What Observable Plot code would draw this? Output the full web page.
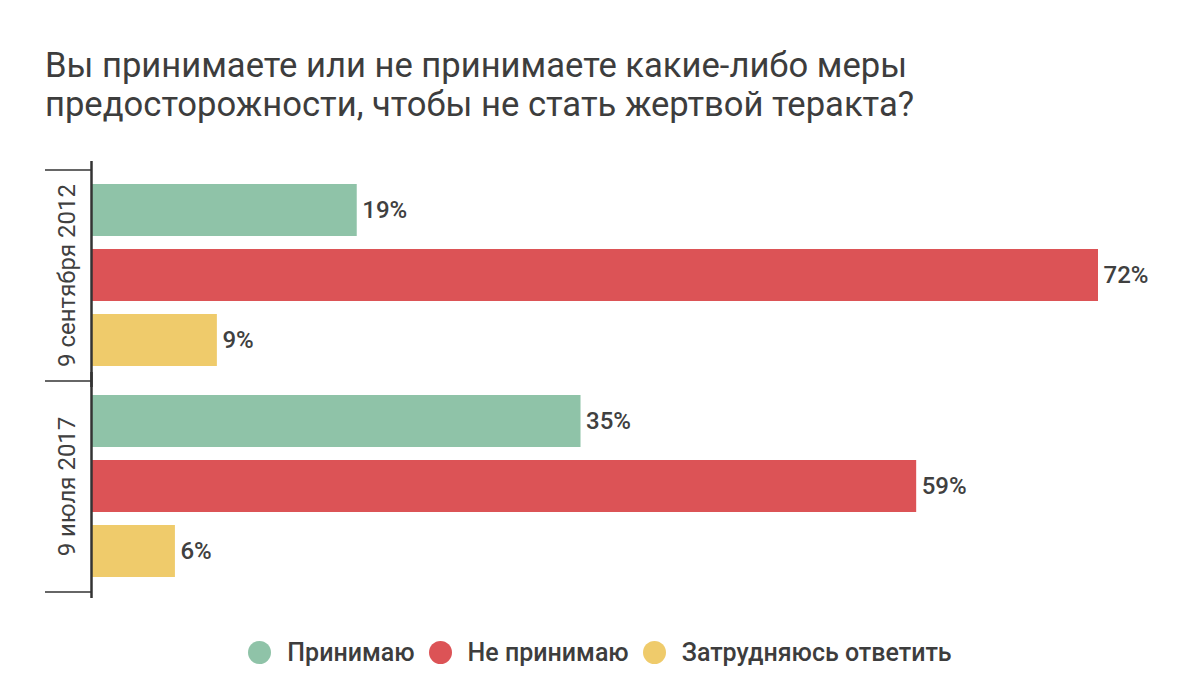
<!DOCTYPE html>
<html>
<head>
<meta charset="utf-8">
<script src="https://cdn.jsdelivr.net/npm/d3@7"></script>
<script src="https://cdn.jsdelivr.net/npm/@observablehq/plot@0.6"></script>
<style>
  html, body { margin: 0; padding: 0; background: #fff; }
  body { width: 1200px; height: 698px; position: relative; font-family: Roboto, "Noto Sans", sans-serif; overflow: hidden; }
  #title { position: absolute; left: 45px; top: 46px; font-size: 34.6px; line-height: 39px; color: #3d3d3d; }
  #chart { position: absolute; left: 0; top: 140px; }
  #legend { position: absolute; left: 0; width: 1200px; top: 638px; display: flex; justify-content: center; align-items: center; font-size: 25px; font-weight: 500; color: #3d3d3d; }
  .item { display: flex; align-items: center; margin: 0 7px; }
  .sw { width: 23px; height: 23px; border-radius: 50%; margin-right: 16px; }
</style>
</head>
<body>
<div id="title">Вы принимаете или не принимаете какие-либо меры<br>предосторожности, чтобы не стать жертвой теракта?</div>
<div id="chart"></div>
<div id="legend"></div>
<script>
const dates = ["9 сентября 2012", "9 июля 2017"];
const answers = ["Принимаю", "Не принимаю", "Затрудняюсь ответить"];
const colors = ["#8fc3a8", "#dc5356", "#efcb6b"];
const values2012 = [19, 72, 9];
const values2017 = [35, 59, 6];

const data = [
  ...answers.map((a, i) => ({date: dates[0], answer: a, value: values2012[i]})),
  ...answers.map((a, i) => ({date: dates[1], answer: a, value: values2017[i]}))
];

const chart = Plot.plot({
  width: 1200,
  height: 471,
  marginTop: 29,
  marginBottom: 20,
  marginLeft: 91,
  marginRight: 102,
  style: {fontFamily: "Roboto, 'Noto Sans', sans-serif", background: "transparent"},
  x: {domain: [0, d3.max(data, d => d.value)], axis: null},
  y: {domain: answers, paddingInner: 0.2, paddingOuter: 0.223, axis: null},
  fy: {domain: dates, padding: 0, axis: null},
  color: {domain: answers, range: colors},
  marks: [
    Plot.barX(data, {x: "value", y: "answer", fy: "date", fill: "answer"}),
    Plot.text(data, {x: "value", y: "answer", fy: "date", text: d => d.value + "%", dx: 5, textAnchor: "start", fontSize: 24, fontWeight: 500, fill: "#404040"}),
    Plot.text(dates, {fy: d => d, y: () => answers[1], text: d => d, frameAnchor: "left", textAnchor: "middle", lineAnchor: "middle", dx: -24, rotate: -90, fontSize: 24, fill: "#404040"}),
    Plot.ruleY(dates, {fy: d => d, y: () => answers[0], x1: 0, x2: 0, insetLeft: -46, dy: -40.5, stroke: "#333", strokeWidth: 1.5}),
    Plot.ruleY([dates[1]], {fy: d => d, y: () => answers[2], x1: 0, x2: 0, insetLeft: -46, dy: 40.5, stroke: "#333", strokeWidth: 1.5}),
    Plot.ruleX([0], {stroke: "#333", strokeWidth: 2.5, insetTop: -8, insetBottom: -7})
  ]
});
document.getElementById("chart").appendChild(chart);

const legend = document.getElementById("legend");
answers.forEach((a, i) => {
  const item = document.createElement("div");
  item.className = "item";
  const sw = document.createElement("span");
  sw.className = "sw";
  sw.style.background = colors[i];
  const label = document.createElement("span");
  label.textContent = a;
  item.appendChild(sw);
  item.appendChild(label);
  legend.appendChild(item);
});
</script>
</body>
</html>
